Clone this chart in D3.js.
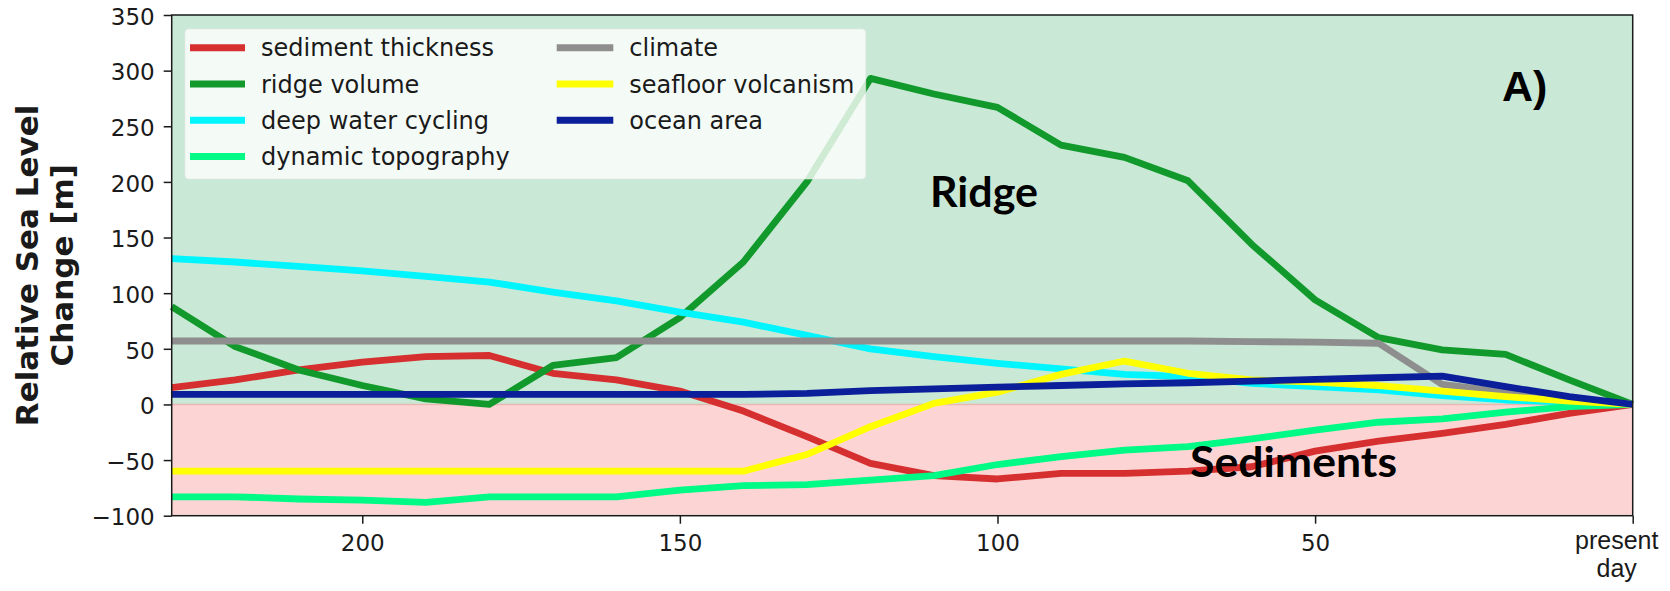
<!DOCTYPE html>
<html>
<head>
<meta charset="utf-8">
<script src="https://cdn.jsdelivr.net/npm/d3@7"></script>
<style>
  html, body { margin: 0; padding: 0; background: #ffffff; }
  svg { display: block; }
</style>
</head>
<body>
<svg id="chart" width="1670" height="591"></svg>
<script>
// Age in Ma, sampled every 10 Myr from 230 Ma to present day
const ages = [230, 220, 210, 200, 190, 180, 170, 160, 150, 140, 130, 120,
              110, 100, 90, 80, 70, 60, 50, 40, 30, 20, 10, 0];

// Relative sea level contributions [m]
const sedimentThickness = [15, 22, 31, 38, 43, 44, 28, 22, 12, -6, -29, -53,
                           -64, -67, -62, -62, -60, -56, -42, -33, -26, -18, -8, 0];
const ridgeVolume       = [88, 52, 31, 17, 5, 0, 35, 42, 78, 128, 200, 293,
                           279, 267, 233, 222, 201, 144, 94, 60, 49, 45, 22, 0];
const deepWaterCycling  = [131, 128, 124, 120, 115, 110, 101, 93, 83, 74, 62, 50,
                           43, 37, 32, 27, 25, 19, 16, 13, 8, 4, 2, 0];
const dynamicTopography = [-83, -83, -85, -86, -88, -83, -83, -83, -77, -73, -72, -68,
                           -64, -54, -47, -41, -38, -31, -23, -16, -13, -7, -2, 0];
const climate           = [57, 57, 57, 57, 57, 57, 57, 57, 57, 57, 57, 57,
                           57, 57, 57, 57, 57, 56.5, 56, 55, 18, 11, 5, 0];
const seafloorVolcanism = [-60, -60, -60, -60, -60, -60, -60, -60, -60, -60, -45, -20,
                           1, 11, 27, 39, 28, 22, 20, 17, 12, 7, 3, 0];
const oceanArea         = [9, 9, 9, 9, 9, 9, 9, 9, 9, 9, 10, 12.5,
                           14, 15.5, 17, 18.5, 19.5, 21, 22.5, 24, 25.5, 16, 7, 0];

const seriesNames  = ["sediment thickness", "ridge volume", "deep water cycling",
                      "dynamic topography", "climate", "seafloor volcanism", "ocean area"];
const seriesValues = [sedimentThickness, ridgeVolume, deepWaterCycling,
                      dynamicTopography, climate, seafloorVolcanism, oceanArea];
const seriesColors = ["#d62f2f", "#12992b", "#00f5ff", "#00fa86",
                      "#8e8e8e", "#ffff00", "#0a1f99"];

const yTicks = [-100, -50, 0, 50, 100, 150, 200, 250, 300, 350];
const xTicks = [200, 150, 100, 50, 0];
const presentLabel = ["present", "day"];

const svg = d3.select("#chart");
const plotL = 171.7, plotR = 1632.7, plotT = 15, plotB = 515.7;

const x = d3.scaleLinear().domain([230, 0]).range([plotL, plotR]);
const y = d3.scaleLinear().domain([-100, 350]).range([plotB, plotT]);

// Background bands: rising sea level (green) and falling (red)
svg.append("rect")
  .attr("x", plotL).attr("y", y(350))
  .attr("width", plotR - plotL).attr("height", y(0) - y(350))
  .attr("fill", "#c9e9d6");
svg.append("rect")
  .attr("x", plotL).attr("y", y(0))
  .attr("width", plotR - plotL).attr("height", y(-100) - y(0))
  .attr("fill", "#fdd4d4");
svg.append("line")
  .attr("x1", plotL).attr("x2", plotR)
  .attr("y1", y(0)).attr("y2", y(0))
  .attr("stroke", "#e9b9b1").attr("stroke-width", 1.5);

// Lines
const line = d3.line()
  .x((d, i) => x(ages[i]))
  .y(d => y(d));

const plot = svg.append("g");
seriesValues.forEach((vals, k) => {
  plot.append("path")
    .datum(vals)
    .attr("d", line)
    .attr("fill", "none")
    .attr("stroke", seriesColors[k])
    .attr("stroke-width", 6.8)
    .attr("stroke-linejoin", "round");
});

// Annotations
svg.append("text")
  .attr("x", 930).attr("y", 206.5)
  .attr("font-family", "Lato, 'Open Sans', sans-serif")
  .attr("font-weight", 700)
  .attr("font-size", 42)
  .attr("textLength", 108).attr("lengthAdjust", "spacingAndGlyphs")
  .attr("fill", "#000")
  .text("Ridge");
svg.append("text")
  .attr("x", 1190).attr("y", 476.5)
  .attr("font-family", "Lato, 'Open Sans', sans-serif")
  .attr("font-weight", 700)
  .attr("font-size", 42)
  .attr("textLength", 207).attr("lengthAdjust", "spacingAndGlyphs")
  .attr("fill", "#000")
  .text("Sediments");
svg.append("text")
  .attr("x", 1502).attr("y", 101)
  .attr("font-family", "'Liberation Sans', Arial, sans-serif")
  .attr("font-weight", 700)
  .attr("font-size", 43)
  .attr("fill", "#000")
  .text("A)");

// Legend
const legend = svg.append("g");
legend.append("rect")
  .attr("x", 185).attr("y", 29)
  .attr("width", 680.7).attr("height", 150)
  .attr("rx", 4).attr("ry", 4)
  .attr("fill", "#ffffff").attr("fill-opacity", 0.8)
  .attr("stroke", "#e6e6e6").attr("stroke-opacity", 0.6);

const colX = [[190, 245, 261], [556.7, 613.3, 629.3]];
const rowY0 = 47.7, rowDy = 36.3;
seriesNames.forEach((name, k) => {
  const col = k < 4 ? 0 : 1;
  const row = k < 4 ? k : k - 4;
  const cy = rowY0 + row * rowDy;
  legend.append("line")
    .attr("x1", colX[col][0]).attr("x2", colX[col][1])
    .attr("y1", cy).attr("y2", cy)
    .attr("stroke", seriesColors[k]).attr("stroke-width", 7);
  legend.append("text")
    .attr("x", colX[col][2]).attr("y", cy + 8.5)
    .attr("font-family", "'DejaVu Sans', sans-serif")
    .attr("font-size", 24)
    .attr("fill", "#1a1a1a")
    .text(name);
});

// Axes
const yAxis = d3.axisLeft(y).tickValues(yTicks).tickSize(8).tickPadding(9)
  .tickFormat(d3.format("d"));
const gy = svg.append("g").attr("transform", `translate(${plotL},0)`).call(yAxis);
gy.select(".domain").remove();
gy.selectAll("text")
  .attr("font-family", "'DejaVu Sans', sans-serif")
  .attr("font-size", 23)
  .attr("fill", "#1a1a1a")
  .attr("dy", "0.4em");
gy.selectAll(".tick line").attr("stroke", "#1a1a1a").attr("stroke-width", 1.5);

const xAxis = d3.axisBottom(x).tickValues(xTicks).tickSize(8).tickPadding(10)
  .tickFormat(d3.format("d"));
const gx = svg.append("g").attr("transform", `translate(0,${plotB})`).call(xAxis);
gx.select(".domain").remove();
gx.selectAll("text")
  .attr("font-family", "'DejaVu Sans', sans-serif")
  .attr("font-size", 23)
  .attr("fill", "#1a1a1a")
  .attr("dy", "0.76em");
gx.selectAll(".tick line").attr("stroke", "#1a1a1a").attr("stroke-width", 1.5);
// the present-day tick carries a two-line label instead of a number
gx.selectAll(".tick").filter(d => d === 0).select("text").remove();

presentLabel.forEach((t, i) => {
  svg.append("text")
    .attr("x", x(0) - 16).attr("y", 549 + i * 28)
    .attr("font-family", "'Liberation Sans', Arial, sans-serif")
    .attr("font-size", 25)
    .attr("fill", "#1a1a1a")
    .attr("text-anchor", "middle")
    .text(t);
});

// Frame
svg.append("rect")
  .attr("x", plotL).attr("y", plotT)
  .attr("width", plotR - plotL).attr("height", plotB - plotT)
  .attr("fill", "none").attr("stroke", "#1a1a1a").attr("stroke-width", 1.5);

// Axis title
const yl = svg.append("text")
  .attr("transform", `translate(0,${(plotT + plotB) / 2}) rotate(-90)`)
  .attr("font-family", "'DejaVu Sans', sans-serif")
  .attr("font-weight", 700)
  .attr("font-size", 31)
  .attr("fill", "#1a1a1a")
  .attr("text-anchor", "middle");
["Relative Sea Level", "Change [m]"].forEach((t, i) => {
  yl.append("tspan").attr("x", 0).attr("y", 38 + i * 34.5).text(t);
});
</script>
</body>
</html>
